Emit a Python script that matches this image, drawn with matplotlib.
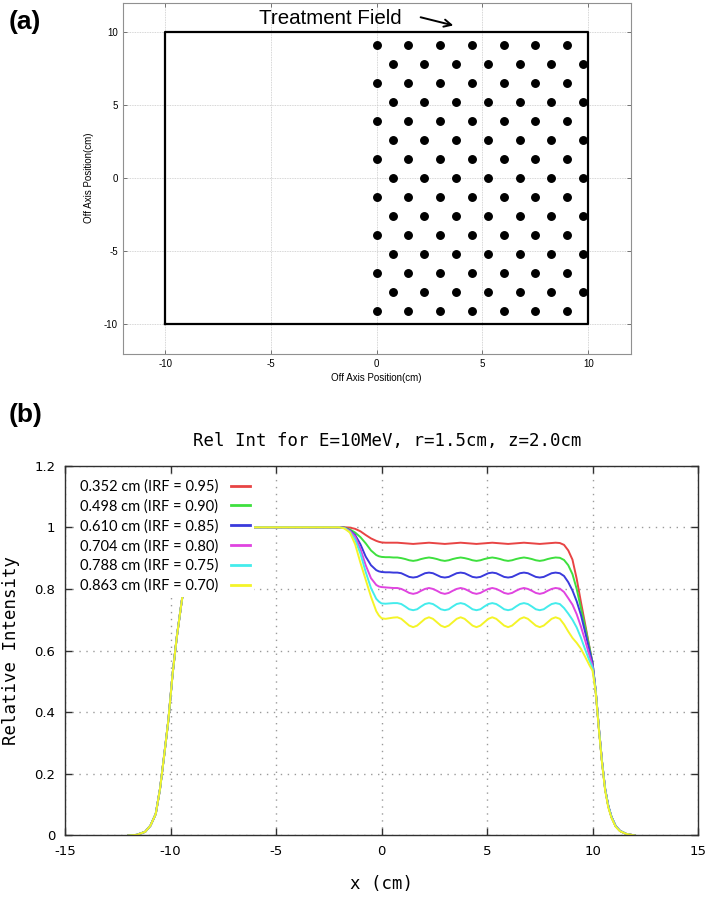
import matplotlib
matplotlib.use("Agg")
import matplotlib.pyplot as plt

plt.rcParams["axes.unicode_minus"] = False

# ---- panel (a): treatment field with hexagonal dot pattern ----
field_x = [-10, 10, 10, -10, -10]
field_y = [-10, -10, 10, 10, -10]

cols_a = [0.0, 1.5, 3.0, 4.5, 6.0, 7.5, 9.0]
cols_b = [0.75, 2.25, 3.75, 5.25, 6.75, 8.25, 9.75]
rows_a = [9.09, 6.49, 3.90, 1.30, -1.30, -3.90, -6.49, -9.09]
rows_b = [7.79, 5.20, 2.60, 0.0, -2.60, -5.20, -7.79]

# ---- panel (b): relative intensity profiles ----
labels = ["0.352 cm (IRF = 0.95)", "0.498 cm (IRF = 0.90)", "0.610 cm (IRF = 0.85)",
          "0.704 cm (IRF = 0.80)", "0.788 cm (IRF = 0.75)", "0.863 cm (IRF = 0.70)"]
colors = ["#e84444", "#3ee03e", "#3a3adc", "#e044e0", "#44ecec", "#f4f428"]

# common left penumbra (all six curves coincide)
x_left = [-12.0, -11.6, -11.2, -10.95, -10.7, -10.5, -10.3, -10.1, -9.9, -9.7,
          -9.5, -9.3, -9.1, -8.8, -8.5, -8.0, -5.0, -2.25]
y_left = [0.0, 0.002, 0.012, 0.032, 0.07, 0.15, 0.26, 0.375, 0.525, 0.645,
          0.745, 0.84, 0.91, 0.965, 0.99, 1.0, 1.0, 1.0]

x_main = [-2.0, -1.75, -1.5, -1.25, -1.0, -0.75, -0.5, -0.25, -0.125,
          0.0, 0.1875, 0.375, 0.5625,
          0.75, 0.9375, 1.125, 1.3125, 1.5, 1.6875, 1.875, 2.0625,
          2.25, 2.4375, 2.625, 2.8125, 3.0, 3.1875, 3.375, 3.5625,
          3.75, 3.9375, 4.125, 4.3125, 4.5, 4.6875, 4.875, 5.0625,
          5.25, 5.4375, 5.625, 5.8125, 6.0, 6.1875, 6.375, 6.5625,
          6.75, 6.9375, 7.125, 7.3125, 7.5, 7.6875, 7.875, 8.0625, 8.25,
          8.45, 8.65, 8.85, 9.05, 9.25, 9.45, 9.65, 9.85, 10.0,
          10.15, 10.3, 10.45, 10.6, 10.75, 10.9, 11.1, 11.3, 11.6, 12.0]

y_red = [1.0, 1.0, 0.999, 0.995, 0.987, 0.975, 0.964, 0.956, 0.953,
         0.951, 0.950, 0.950, 0.950,
         0.950, 0.949, 0.948, 0.947, 0.946, 0.947, 0.948, 0.949,
         0.950, 0.949, 0.948, 0.947, 0.946, 0.947, 0.948, 0.949,
         0.950, 0.949, 0.948, 0.947, 0.946, 0.947, 0.948, 0.949,
         0.950, 0.949, 0.948, 0.947, 0.946, 0.947, 0.948, 0.949,
         0.950, 0.949, 0.948, 0.947, 0.946, 0.947, 0.948, 0.949, 0.950,
         0.949, 0.943, 0.925, 0.895, 0.833, 0.758, 0.686, 0.613, 0.560,
         0.47, 0.35, 0.24, 0.15, 0.095, 0.06, 0.03, 0.015, 0.005, 0.0]
y_green = [1.0, 0.999, 0.993, 0.983, 0.968, 0.948, 0.925, 0.910, 0.906,
           0.904, 0.903, 0.903, 0.902,
           0.902, 0.900, 0.897, 0.893, 0.891, 0.893, 0.897, 0.900,
           0.902, 0.900, 0.897, 0.893, 0.891, 0.893, 0.897, 0.900,
           0.902, 0.900, 0.897, 0.893, 0.891, 0.893, 0.897, 0.900,
           0.902, 0.900, 0.897, 0.893, 0.891, 0.893, 0.897, 0.900,
           0.902, 0.900, 0.897, 0.893, 0.891, 0.893, 0.897, 0.900, 0.902,
           0.901, 0.894, 0.877, 0.848, 0.800, 0.738, 0.677, 0.612, 0.560,
           0.47, 0.35, 0.24, 0.15, 0.095, 0.06, 0.03, 0.015, 0.005, 0.0]
y_blue = [1.0, 0.998, 0.990, 0.975, 0.945, 0.905, 0.877, 0.861, 0.857,
          0.855, 0.854, 0.854, 0.853,
          0.853, 0.851, 0.845, 0.839, 0.837, 0.839, 0.845, 0.851,
          0.853, 0.851, 0.845, 0.839, 0.837, 0.839, 0.845, 0.851,
          0.853, 0.851, 0.845, 0.839, 0.837, 0.839, 0.845, 0.851,
          0.853, 0.851, 0.845, 0.839, 0.837, 0.839, 0.845, 0.851,
          0.853, 0.851, 0.845, 0.839, 0.837, 0.839, 0.845, 0.851, 0.853,
          0.851, 0.842, 0.822, 0.795, 0.760, 0.716, 0.660, 0.603, 0.560,
          0.47, 0.35, 0.24, 0.15, 0.095, 0.06, 0.03, 0.015, 0.005, 0.0]
y_magenta = [1.0, 0.998, 0.988, 0.970, 0.930, 0.877, 0.835, 0.813, 0.808,
             0.806, 0.805, 0.804, 0.803,
             0.803, 0.800, 0.794, 0.787, 0.784, 0.787, 0.794, 0.800,
             0.803, 0.800, 0.794, 0.787, 0.784, 0.787, 0.794, 0.800,
             0.803, 0.800, 0.794, 0.787, 0.784, 0.787, 0.794, 0.800,
             0.803, 0.800, 0.794, 0.787, 0.784, 0.787, 0.794, 0.800,
             0.803, 0.800, 0.794, 0.787, 0.784, 0.787, 0.794, 0.800, 0.803,
             0.801, 0.790, 0.770, 0.749, 0.718, 0.678, 0.633, 0.585, 0.550,
             0.47, 0.35, 0.24, 0.15, 0.095, 0.06, 0.03, 0.015, 0.005, 0.0]
y_cyan = [1.0, 0.997, 0.985, 0.960, 0.915, 0.855, 0.803, 0.768, 0.759,
          0.753, 0.752, 0.753, 0.754,
          0.754, 0.751, 0.743, 0.734, 0.731, 0.734, 0.743, 0.751,
          0.754, 0.751, 0.743, 0.734, 0.731, 0.734, 0.743, 0.751,
          0.754, 0.751, 0.743, 0.734, 0.731, 0.734, 0.743, 0.751,
          0.754, 0.751, 0.743, 0.734, 0.731, 0.734, 0.743, 0.751,
          0.754, 0.751, 0.743, 0.734, 0.731, 0.734, 0.743, 0.751, 0.754,
          0.751, 0.738, 0.720, 0.700, 0.675, 0.642, 0.604, 0.568, 0.545,
          0.47, 0.35, 0.24, 0.15, 0.095, 0.06, 0.03, 0.015, 0.005, 0.0]
y_yellow = [1.0, 0.996, 0.983, 0.945, 0.885, 0.830, 0.775, 0.728, 0.714,
            0.705, 0.703, 0.705, 0.707,
            0.708, 0.703, 0.692, 0.681, 0.676, 0.681, 0.692, 0.703,
            0.708, 0.703, 0.692, 0.681, 0.676, 0.681, 0.692, 0.703,
            0.708, 0.703, 0.692, 0.681, 0.676, 0.681, 0.692, 0.703,
            0.708, 0.703, 0.692, 0.681, 0.676, 0.681, 0.692, 0.703,
            0.708, 0.703, 0.692, 0.681, 0.676, 0.681, 0.692, 0.703, 0.708,
            0.703, 0.685, 0.662, 0.641, 0.625, 0.606, 0.580, 0.553, 0.535,
            0.465, 0.345, 0.235, 0.145, 0.09, 0.057, 0.028, 0.014, 0.005, 0.0]

series = [y_red, y_green, y_blue, y_magenta, y_cyan, y_yellow]

fig = plt.figure(figsize=(7.09, 9.0), dpi=100)

# ---------------- panel (a) ----------------
ax1 = fig.add_axes([0.1732, 0.607, 0.7162, 0.390])
ax1.plot(field_x, field_y, color="black", lw=1.6, zorder=3)
dots_x, dots_y = [], []
for yy in rows_a:
    for xx in cols_a:
        dots_x.append(xx)
        dots_y.append(yy)
for yy in rows_b:
    for xx in cols_b:
        dots_x.append(xx)
        dots_y.append(yy)
ax1.plot(dots_x, dots_y, "o", color="black", ms=5.4, zorder=4)
ax1.set_xlim(-12, 12)
ax1.set_ylim(-12, 12)
ax1.set_xticks([-10, -5, 0, 5, 10])
ax1.set_yticks([-10, -5, 0, 5, 10])
ax1.grid(True, color="#c8c8c8", lw=0.6, ls=(0, (1, 1)))
ax1.tick_params(direction="in", length=3, width=0.6, top=True, right=True,
                labelsize=7, color="#606060")
for lab in ax1.get_xticklabels() + ax1.get_yticklabels():
    lab.set_family("Liberation Sans")
for s in ax1.spines.values():
    s.set_color("#909090")
    s.set_linewidth(0.8)
ax1.set_xlabel("Off Axis Position(cm)", fontsize=7, family="Liberation Sans", labelpad=3)
ax1.set_ylabel("Off Axis Position(cm)", fontsize=7, family="Liberation Sans", labelpad=7)
ax1.text(-2.2, 10.9, "Treatment Field", fontsize=14.8, family="Liberation Sans",
         ha="center", va="center")
ax1.annotate("", xy=(3.75, 10.4), xytext=(1.95, 11.05),
             arrowprops=dict(arrowstyle="->", color="black", lw=1.4, mutation_scale=13))

fig.text(0.012, 0.976, "(a)", fontsize=19, fontweight="bold", family="Liberation Sans",
         ha="left", va="center")
fig.text(0.012, 0.539, "(b)", fontsize=19, fontweight="bold", family="Liberation Sans",
         ha="left", va="center")

# ---------------- panel (b) ----------------
ax2 = fig.add_axes([0.0917, 0.0717, 0.8928, 0.4109])
for ys, c, lab in zip(series, colors, labels):
    ax2.plot(x_left + x_main, y_left + ys, color=c, lw=1.4, label=lab)
ax2.set_xlim(-15, 15)
ax2.set_ylim(0, 1.2)
ax2.set_xticks([-15, -10, -5, 0, 5, 10, 15])
ax2.set_yticks([0, 0.2, 0.4, 0.6, 0.8, 1.0, 1.2])
ax2.set_yticklabels(["0", "0.2", "0.4", "0.6", "0.8", "1", "1.2"])
ax2.grid(True, color="#9a9a9a", lw=1.0, ls=(0, (1, 4)))
ax2.tick_params(direction="in", length=5, width=1.0, top=True, right=True,
                labelsize=9.5, color="#303030", pad=7)
for s in ax2.spines.values():
    s.set_color("#303030")
    s.set_linewidth(1.0)
ax2.set_title("Rel Int for E=10MeV, r=1.5cm, z=2.0cm", family="DejaVu Sans Mono",
              fontsize=12.5, pad=14, x=0.509)
ax2.set_xlabel("x (cm)", family="DejaVu Sans Mono", fontsize=12.5, labelpad=12)
ax2.set_ylabel("Relative Intensity", family="DejaVu Sans Mono", fontsize=12.5, labelpad=10)
leg = ax2.legend(loc="upper left", bbox_to_anchor=(0.016, 0.975), markerfirst=False,
                 frameon=True, facecolor="white", edgecolor="none", framealpha=1,
                 fancybox=False, prop={"family": "Lato", "size": 10.5},
                 handlelength=1.3, handletextpad=0.9, labelspacing=0.38,
                 borderpad=0.3, borderaxespad=0)
for ln in leg.get_lines():
    ln.set_linewidth(2.0)

fig.savefig("out.png", dpi=100)
